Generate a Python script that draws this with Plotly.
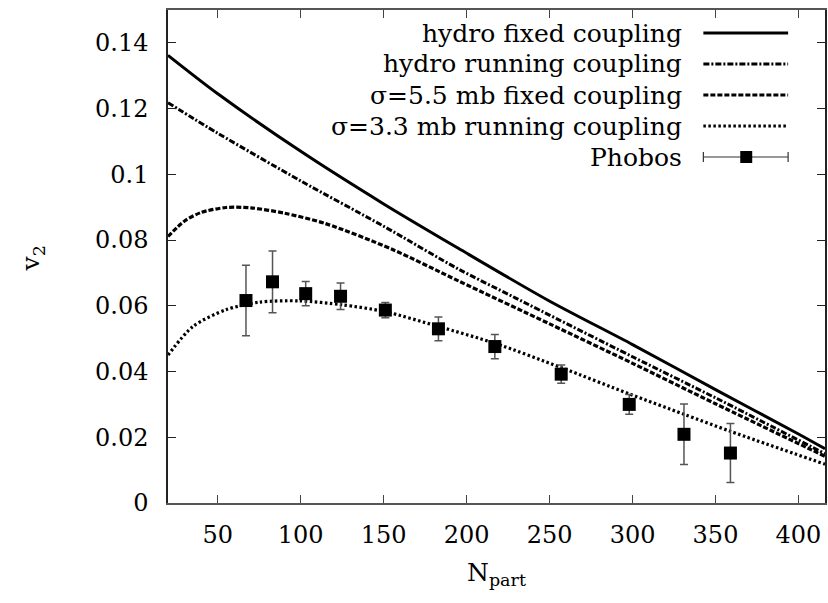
import plotly.graph_objects as go

# ---- data ----
npart_hydro_fixed = [20, 50, 100, 150, 195, 249, 300, 350, 400, 416]
v2_hydro_fixed = [0.1362, 0.1245, 0.107, 0.091, 0.0775, 0.0617, 0.0482, 0.0345, 0.0210, 0.0165]

npart_hydro_running = [20, 50, 100, 150, 195, 229, 300, 350, 416]
v2_hydro_running = [0.1218, 0.1125, 0.0980, 0.0842, 0.0712, 0.0625, 0.0445, 0.0320, 0.0150]

npart_sigma55 = [20, 30, 40, 55, 70, 90, 115, 155, 195, 250, 300, 350, 416]
v2_sigma55 = [0.0811, 0.0858, 0.0884, 0.0899, 0.0898, 0.0882, 0.0850, 0.0772, 0.0676,
              0.0545, 0.0425, 0.0302, 0.0142]

npart_sigma33 = [20, 35, 55, 75, 99, 125, 151, 183, 217, 257, 298, 331, 359, 416]
v2_sigma33 = [0.0450, 0.0537, 0.0588, 0.0611, 0.0615, 0.0603, 0.0582, 0.0537, 0.0486,
              0.0412, 0.0332, 0.0270, 0.0218, 0.0118]

npart_phobos = [67, 83, 103, 124, 151, 183, 217, 257, 298, 331, 359]
v2_phobos = [0.0616, 0.0673, 0.0637, 0.0629, 0.0587, 0.0530, 0.0476, 0.0392, 0.0300, 0.0209, 0.0152]
err_phobos = [0.0107, 0.0094, 0.0037, 0.0040, 0.0023, 0.0036, 0.0037, 0.0028, 0.0030, 0.0092, 0.0090]

legend_labels = ["hydro fixed coupling", "hydro running coupling",
                 "σ=5.5 mb fixed coupling", "σ=3.3 mb running coupling", "Phobos"]

x_ticks = [50, 100, 150, 200, 250, 300, 350, 400]
y_ticks = [0, 0.02, 0.04, 0.06, 0.08, 0.1, 0.12, 0.14]
y_tick_text = ["0", "0.02", "0.04", "0.06", "0.08", "0.1", "0.12", "0.14"]

# ---- layout geometry (pixels) ----
W, H = 828, 603
ML, MR, MT, MB = 168, 1, 10, 100
PW, PH = W - ML - MR, H - MT - MB
FONT = "DejaVu Serif"
FS = 24
FS_LEG = 25

def px(xp):
    return (xp - ML) / PW

def py(yp):
    return (H - MB - yp) / PH

fig = go.Figure()

styles = [
    (npart_hydro_fixed, v2_hydro_fixed, "solid", 3),
    (npart_hydro_running, v2_hydro_running, "6px,2px,2px,2px", 3),
    (npart_sigma55, v2_sigma55, "5px,2px", 3.2),
    (npart_sigma33, v2_sigma33, "2.5px,2.5px", 3.2),
]
for (xs, ys, dash, w), name in zip(styles, legend_labels):
    fig.add_trace(go.Scatter(x=xs, y=ys, mode="lines", name=name,
                             line=dict(color="black", width=w, dash=dash, shape="spline", smoothing=0.8),
                             showlegend=False, hoverinfo="skip"))

fig.add_trace(go.Scatter(
    x=npart_phobos, y=v2_phobos, mode="markers", name="Phobos",
    marker=dict(symbol="square", size=13, color="black"),
    error_y=dict(type="data", array=err_phobos, visible=True, color="#555", thickness=1.5, width=4),
    showlegend=False))

# ---- custom legend (text right-aligned, sample on the right) ----
row_y = [33, 64, 95, 126, 157]
text_right = 686
s0, s1 = 705, 790
annotations = []
shapes = []
for i, (lab, yy) in enumerate(zip(legend_labels, row_y)):
    annotations.append(dict(x=px(text_right), y=py(yy), xref="paper", yref="paper",
                            text=lab, showarrow=False, xanchor="right", yanchor="middle",
                            font=dict(family=FONT, size=FS_LEG, color="black")))
    if i < 4:
        _, _, dash, w = styles[i]
        shapes.append(dict(type="line", xref="paper", yref="paper",
                           x0=px(s0), x1=px(s1), y0=py(yy), y1=py(yy),
                           line=dict(color="black", width=w, dash=dash)))
    else:
        shapes.append(dict(type="line", xref="paper", yref="paper",
                           x0=px(s0), x1=px(s1), y0=py(yy), y1=py(yy),
                           line=dict(color="#333", width=1.2)))
        for xc in (s0, s1):
            shapes.append(dict(type="line", xref="paper", yref="paper",
                               x0=px(xc), x1=px(xc), y0=py(yy - 5), y1=py(yy + 5),
                               line=dict(color="#333", width=1.2)))
        shapes.append(dict(type="rect", xref="paper", yref="paper",
                           x0=px(742), x1=px(754), y0=py(yy - 6), y1=py(yy + 6),
                           fillcolor="black", line=dict(width=0)))

# axis titles
annotations.append(dict(x=0.5, y=py(574), xref="paper", yref="paper",
                        text="N<sub>part</sub>", showarrow=False, xanchor="center", yanchor="middle",
                        font=dict(family=FONT, size=FS_LEG, color="black")))
annotations.append(dict(x=px(32), y=py(258), xref="paper", yref="paper",
                        text="v<sub>2</sub>", showarrow=False, textangle=-90,
                        xanchor="center", yanchor="middle",
                        font=dict(family=FONT, size=FS_LEG, color="black")))

fig.update_layout(
    width=W, height=H,
    margin=dict(l=ML, r=MR, t=MT, b=MB, pad=0),
    paper_bgcolor="white", plot_bgcolor="white",
    font=dict(family=FONT, size=FS, color="black"),
    annotations=annotations, shapes=shapes,
    xaxis=dict(range=[20, 416], tickvals=x_ticks, ticks="inside", ticklen=8, tickwidth=1.2,
               tickcolor="#444", showline=True, linecolor="#555", linewidth=1.5, mirror="ticks",
               showgrid=False, zeroline=False, ticklabelstandoff=9,
               tickfont=dict(family=FONT, size=FS, color="black")),
    yaxis=dict(range=[0, 0.15], tickvals=y_ticks, ticktext=y_tick_text, ticks="inside", ticklen=8,
               tickwidth=1.2, tickcolor="#222", showline=True, linecolor="#222", linewidth=1.5,
               mirror="ticks", showgrid=False, zeroline=False, ticklabelstandoff=13,
               tickfont=dict(family=FONT, size=FS, color="black")),
)

fig.write_html("out.html")
